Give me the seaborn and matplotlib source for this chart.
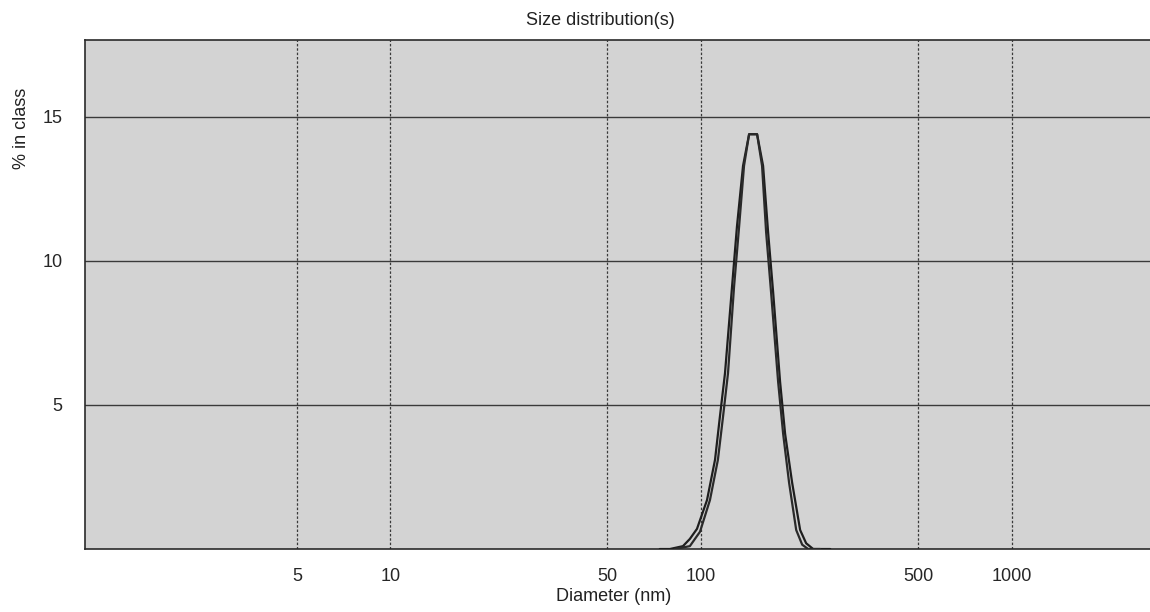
import numpy as np
import pandas as pd
import matplotlib
matplotlib.use("Agg")
import matplotlib.pyplot as plt
import seaborn as sns

# ---- data ----
diam_a = [73.7, 79.4, 87.5, 92.1, 97.1, 104.6, 111.0, 115.1, 119.5, 125.9, 130.6,
          136.6, 142.9, 151.6, 158.5, 164.5, 170.8, 179.8, 186.6, 196.6, 208.6,
          218.1, 229.8, 260.7]
pct_a = [0.0, 0.0, 0.1, 0.35, 0.7, 1.7, 3.1, 4.6, 6.1, 9.1, 11.2,
         13.3, 14.4, 14.4, 13.3, 11.0, 8.9, 5.8, 4.0, 2.3, 0.66,
         0.2, 0.0, 0.0]

diam_b = [82.4, 92.1, 99.3, 106.9, 113.4, 117.8, 122.2, 127.8, 132.7, 137.6, 142.9,
          151.6, 157.3, 162.1, 168.2, 177.2, 183.9, 192.2, 202.6, 211.8, 221.4, 242.1]
pct_b = [0.0, 0.1, 0.6, 1.7, 3.1, 4.6, 6.1, 9.1, 11.2, 13.3, 14.4,
         14.4, 13.3, 11.0, 8.9, 5.8, 4.0, 2.3, 0.66, 0.15, 0.0, 0.0]

xticks = [5, 10, 50, 100, 500, 1000]
xtick_labels = ["5", "10", "50", "100", "500", "1000"]
yticks = [5, 10, 15]
ytick_labels = ["5", "10", "15"]

df = pd.concat([
    pd.DataFrame({"Diameter": diam_a, "pct": pct_a, "run": "Record 1"}),
    pd.DataFrame({"Diameter": diam_b, "pct": pct_b, "run": "Record 2"}),
])

sns.set_style("white")
plt.rcParams["font.family"] = ["Liberation Sans", "DejaVu Sans"]

fig = plt.figure(figsize=(11.5, 6.12), dpi=100)
ax = fig.add_axes([0.0739, 0.1029, 0.9261, 0.8317])
ax.set_facecolor("#d3d3d3")

sns.lineplot(data=df, x="Diameter", y="pct", hue="run",
             palette=["#1e1e1e", "#2a2a2a"], linewidth=1.6,
             legend=False, ax=ax, estimator=None, sort=False, zorder=5)

ax.set_xscale("log")
ax.set_xlim(1.04, 2790)
ax.set_ylim(0, 17.67)

ax.set_xticks(xticks)
ax.set_xticklabels(xtick_labels, fontsize=13)
ax.set_yticks(yticks)
ax.set_yticklabels(ytick_labels, fontsize=13)
ax.minorticks_off()
ax.tick_params(axis="both", length=0)
ax.tick_params(axis="x", pad=14)
ax.tick_params(axis="y", pad=16)

ax.xaxis.grid(True, color="#3a3a3a", linestyle=(0, (2, 1.5)), linewidth=0.9)
ax.yaxis.grid(True, color="#3a3a3a", linestyle="-", linewidth=1.0)
ax.set_axisbelow(True)

for side in ["top", "left", "bottom"]:
    ax.spines[side].set_visible(True)
    ax.spines[side].set_color("#2a2a2a")
    ax.spines[side].set_linewidth(1.2)
ax.spines["right"].set_visible(False)

ax.set_xlabel("")
ax.set_ylabel("")

fig.text(0.522, 0.967, "Size distribution(s)", ha="center", va="center", fontsize=13, color="#222222")
fig.text(0.534, 0.026, "Diameter (nm)", ha="center", va="center", fontsize=13, color="#222222")
fig.text(0.019, 0.79, "% in class", ha="center", va="center", rotation=90, fontsize=13, color="#222222")

fig.savefig("out.png", dpi=100)
